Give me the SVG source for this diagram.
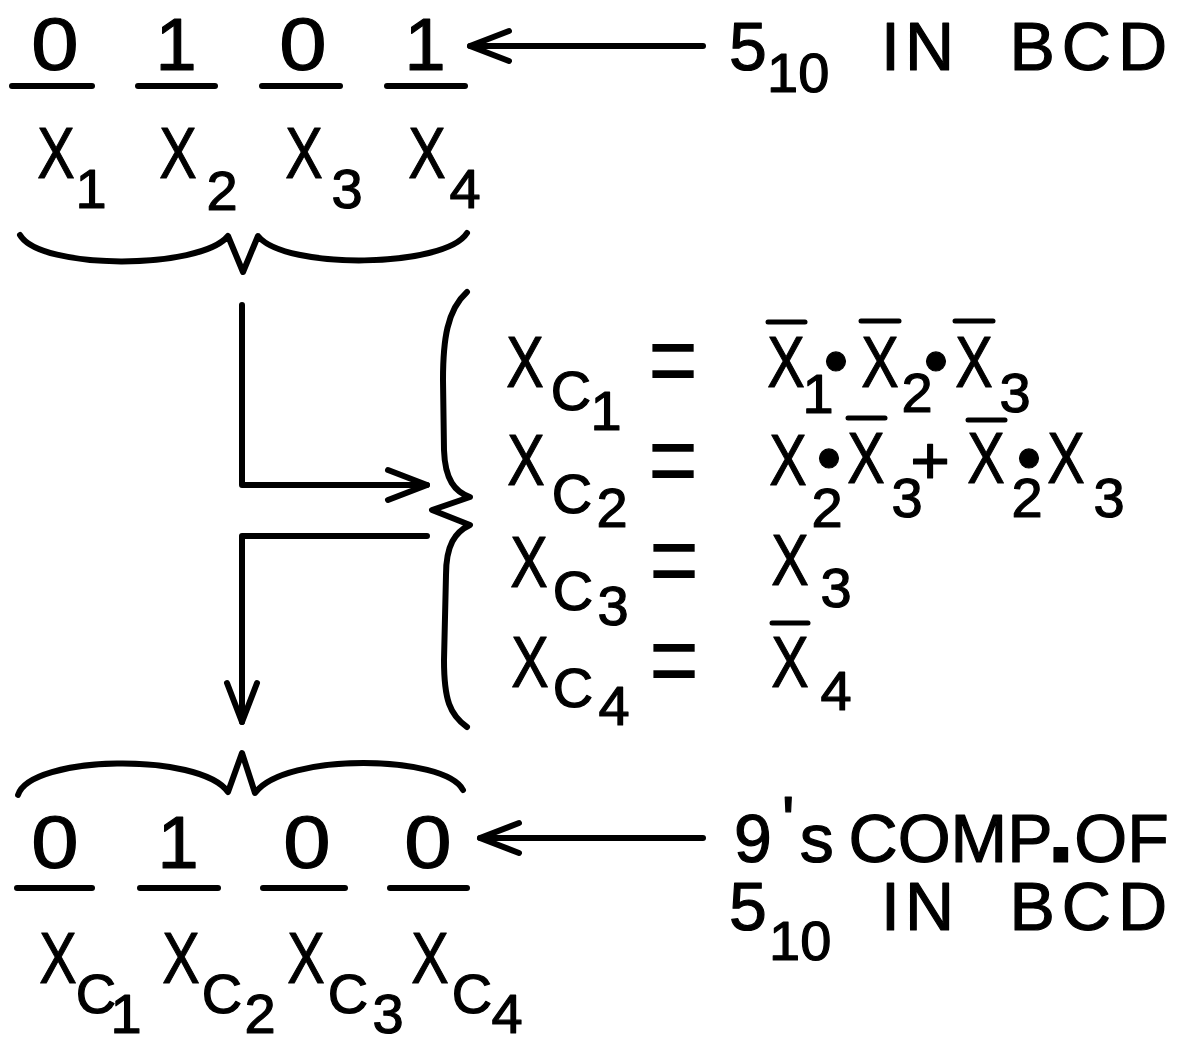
<svg xmlns="http://www.w3.org/2000/svg" width="1180" height="1038" viewBox="0 0 1180 1038">
<style>
.t{font-family:"Liberation Sans",Arial,sans-serif;fill:#000;stroke:#000;stroke-width:1.2;stroke-linejoin:round}
.m{text-anchor:middle}
.X{font-size:72px}
.s{font-size:56px}
.d{font-size:74px}
.lab{font-size:68px}
.eq{font-size:100px;stroke:none}
.dot{font-size:70px}
.ln{stroke:#000;stroke-width:6;fill:none;stroke-linecap:round;stroke-linejoin:round}
.bar{stroke:#000;stroke-width:5;fill:none;stroke-linecap:round}
</style>
<defs>
<marker id="arr" viewBox="0 0 40 30" refX="40" refY="15" markerWidth="40" markerHeight="30" markerUnits="userSpaceOnUse" orient="auto" overflow="visible">
<path d="M1,0 L40,15 L1,30" fill="none" stroke="#000" stroke-width="6" stroke-linecap="round" stroke-linejoin="round"/>
</marker>
</defs>
<rect width="1180" height="1038" fill="#fff"/>

<g id="top-bits">
<text class="t d m" transform="translate(55,70) scale(1.15,1)">0</text>
<text class="t d m" x="176" y="70">1</text>
<text class="t d m" transform="translate(303,70) scale(1.15,1)">0</text>
<text class="t d m" x="425" y="70">1</text>
<line class="ln" x1="12" y1="86" x2="92" y2="86"/>
<line class="ln" x1="138" y1="86" x2="215" y2="86"/>
<line class="ln" x1="262" y1="86" x2="340" y2="86"/>
<line class="ln" x1="387" y1="86" x2="465" y2="86"/>
</g>

<g id="top-vars">
<text class="t X m" transform="translate(56,178) scale(0.78,1)">X</text>
<text class="t s m" x="91" y="208">1</text>
<text class="t X m" transform="translate(178,178) scale(0.78,1)">X</text>
<text class="t s m" x="222" y="210">2</text>
<text class="t X m" transform="translate(304,178) scale(0.78,1)">X</text>
<text class="t s m" x="347" y="208">3</text>
<text class="t X m" transform="translate(427,178) scale(0.78,1)">X</text>
<text class="t s m" x="465" y="208">4</text>
</g>

<g id="top-label">
<text class="t lab" x="729" y="70">5</text>
<text class="t s" x="767" y="92">10</text>
<text class="t lab" x="881" y="70" letter-spacing="5">IN</text>
<text class="t lab" x="1009.5" y="70" letter-spacing="7">BCD</text>
</g>

<g id="top-brace">
<path class="ln" d="M20,235 C40,270 200,270 228,236 L243,272 L258,236 C285,270 445,268 467,233"/>
</g>

<g id="equation-brace">
<path class="ln" d="M467,292 C447,310 443,340 443,380 L444,450 C445,480 455,492 470,497 L432,510 L470,525 C455,532 446,545 446,575 L444,660 C444,700 450,715 467,727"/>
</g>

<g id="equations">
<g id="eq1">
<text class="t X m" transform="translate(525,387) scale(0.78,1)">X</text>
<text class="t s m" x="571" y="410">C</text>
<text class="t s m" x="606" y="430">1</text>
<text class="t eq m" transform="translate(673,396) scale(0.85,1.05)">=</text>
<text class="t X m" transform="translate(786,387) scale(0.78,1)">X</text>
<line class="bar" x1="768" y1="322" x2="805" y2="322"/>
<text class="t s m" x="818" y="413">1</text>
<text class="t dot m" x="836" y="385">•</text>
<text class="t X m" transform="translate(880,387) scale(0.78,1)">X</text>
<line class="bar" x1="861" y1="321" x2="899" y2="321"/>
<text class="t s m" x="917" y="412">2</text>
<text class="t dot m" x="936" y="385">•</text>
<text class="t X m" transform="translate(974,387) scale(0.78,1)">X</text>
<line class="bar" x1="955" y1="321" x2="993" y2="321"/>
<text class="t s m" x="1015" y="412">3</text>
</g>
<g id="eq2">
<text class="t X m" transform="translate(526,485) scale(0.78,1)">X</text>
<text class="t s m" x="572" y="513">C</text>
<text class="t s m" x="612" y="527">2</text>
<text class="t eq m" transform="translate(673,496) scale(0.85,1.05)">=</text>
<text class="t X m" transform="translate(788,485) scale(0.78,1)">X</text>
<text class="t s m" x="827" y="527">2</text>
<text class="t dot m" x="829" y="482">•</text>
<text class="t X m" transform="translate(866,483) scale(0.78,1)">X</text>
<line class="bar" x1="848" y1="418" x2="885" y2="418"/>
<text class="t s m" x="907" y="517">3</text>
<text class="t m" font-size="68" x="930" y="484">+</text>
<text class="t X m" transform="translate(986,483) scale(0.78,1)">X</text>
<line class="bar" x1="968" y1="420" x2="1005" y2="420"/>
<text class="t s m" x="1027" y="517">2</text>
<text class="t dot m" x="1029" y="482">•</text>
<text class="t X m" transform="translate(1066,483) scale(0.78,1)">X</text>
<text class="t s m" x="1109" y="517">3</text>
</g>
<g id="eq3">
<text class="t X m" transform="translate(529,587) scale(0.78,1)">X</text>
<text class="t s m" x="573" y="610">C</text>
<text class="t s m" x="613" y="625">3</text>
<text class="t eq m" transform="translate(674,596) scale(0.85,1.05)">=</text>
<text class="t X m" transform="translate(790,585) scale(0.78,1)">X</text>
<text class="t s m" x="836" y="607">3</text>
</g>
<g id="eq4">
<text class="t X m" transform="translate(530,687) scale(0.78,1)">X</text>
<text class="t s m" x="573" y="707">C</text>
<text class="t s m" x="614" y="725">4</text>
<text class="t eq m" transform="translate(674,696) scale(0.85,1.05)">=</text>
<text class="t X m" transform="translate(790,687) scale(0.78,1)">X</text>
<line class="bar" x1="772" y1="623" x2="808" y2="623"/>
<text class="t s m" x="836" y="710">4</text>
</g>
</g>

<g id="bottom-brace">
<path class="ln" d="M18,795 C30,755 200,752 228,792 L242,753 L255,793 C285,752 445,755 463,790"/>
</g>

<g id="bottom-bits">
<text class="t d m" transform="translate(55,868) scale(1.15,1)">0</text>
<text class="t d m" x="178" y="868">1</text>
<text class="t d m" transform="translate(307,868) scale(1.15,1)">0</text>
<text class="t d m" transform="translate(428,868) scale(1.15,1)">0</text>
<line class="ln" x1="17" y1="888" x2="92" y2="888"/>
<line class="ln" x1="140" y1="888" x2="218" y2="888"/>
<line class="ln" x1="263" y1="888" x2="345" y2="888"/>
<line class="ln" x1="390" y1="888" x2="467" y2="888"/>
</g>

<g id="bottom-vars">
<text class="t X m" transform="translate(58,983) scale(0.78,1)">X</text>
<text class="t s m" x="96" y="1013">C</text>
<text class="t s m" x="126" y="1033">1</text>
<text class="t X m" transform="translate(181,983) scale(0.78,1)">X</text>
<text class="t s m" x="222" y="1013">C</text>
<text class="t s m" x="260" y="1033">2</text>
<text class="t X m" transform="translate(306,983) scale(0.78,1)">X</text>
<text class="t s m" x="348" y="1013">C</text>
<text class="t s m" x="388" y="1033">3</text>
<text class="t X m" transform="translate(430,983) scale(0.78,1)">X</text>
<text class="t s m" x="472" y="1013">C</text>
<text class="t s m" x="507" y="1033">4</text>
</g>

<g id="bottom-label">
<text class="t lab" x="734" y="862">9<tspan dx="10" dy="-18">'</tspan><tspan dx="5" dy="18">s</tspan></text>
<text class="t lab" x="848.6" y="862">COMP<tspan font-size="96" font-weight="bold" dx="-5">.</tspan>OF</text>
<text class="t lab" x="729" y="930">5</text>
<text class="t s" x="769" y="960">10</text>
<text class="t lab" x="881" y="930" letter-spacing="5">IN</text>
<text class="t lab" x="1009.5" y="930" letter-spacing="7">BCD</text>
</g>

<g id="connectors">
<path class="ln" d="M703,46 L470,46" marker-end="url(#arr)"/>
<path class="ln" d="M242,305 L242,485 L427,485" marker-end="url(#arr)"/>
<path class="ln" d="M427,536 L242,536 L242,722" marker-end="url(#arr)"/>
<path class="ln" d="M703,838 L480,838" marker-end="url(#arr)"/>
</g>
</svg>
